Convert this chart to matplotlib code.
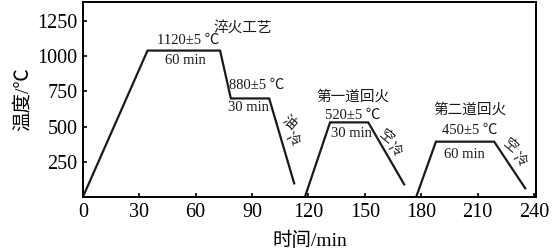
import matplotlib.pyplot as plt

# heat-treatment curve
quench_time = [0, 34.4, 73, 78.7, 99.1, 112.4]
quench_temp = [0, 1040, 1040, 700, 700, 97]
temper1_time = [118.1, 131.5, 151.8, 170.9]
temper1_temp = [0, 530, 530, 90]
temper2_time = [177.3, 187.8, 218.8, 235.3]
temper2_temp = [0, 393, 393, 62]

x_ticks = [0, 30, 60, 90, 120, 150, 180, 210, 240]
y_ticks = [250, 500, 750, 1000, 1250]

FAM = ['Liberation Serif', 'Noto Sans CJK SC']

plt.rcParams['font.family'] = FAM

fig = plt.figure(figsize=(5.6, 2.5), dpi=100)
ax = fig.add_axes([0.148, 0.212, 0.809, 0.78])

for t, T in [(quench_time, quench_temp), (temper1_time, temper1_temp),
             (temper2_time, temper2_temp)]:
    ax.plot(t, T, color='#1a1a1a', lw=1.6, solid_joinstyle='miter')

ax.set_xlim(0, 241)
ax.set_ylim(0, 1385)
ax.set_xticks(x_ticks)
ax.set_yticks(y_ticks)
ax.tick_params(direction='in', length=3, width=1.2, labelsize=14.5, pad=4)
for s in ax.spines.values():
    s.set_linewidth(1.4)

ax.set_xlabel('时间/min', fontsize=14, labelpad=7)
ax.set_ylabel('温度/℃', fontsize=14, labelpad=4)

# straight labels
labels = [
    ('淬火工艺', 85.1, 1193),
    ('1120±5 ℃', 55.9, 1115),
    ('60 min', 54.3, 966),
    ('880±5 ℃', 92.6, 795),
    ('30 min', 88.3, 639),
    ('第一道回火', 143.5, 712),
    ('520±5 ℃', 143.6, 577),
    ('30 min', 142.6, 453),
    ('第二道回火', 205.9, 618),
    ('450±5 ℃', 205.6, 476),
    ('60 min', 203.2, 305),
]
for txt, x, y in labels:
    ax.text(x, y, txt, ha='center', va='center', fontsize=10.5,
            color='#1a1a1a')

# cooling labels, one tilted character at a time
cool = [
    ('油', 109.6, 526), ('冷', 111.7, 405),
    ('空', 161.2, 426), ('冷', 166.0, 334),
    ('空', 227.1, 362), ('冷', 232.4, 263),
]
for ch, x, y in cool:
    ax.text(x, y, ch, ha='center', va='center', fontsize=10,
            rotation=-40, color='#1a1a1a')

plt.savefig('out.png', dpi=100)
